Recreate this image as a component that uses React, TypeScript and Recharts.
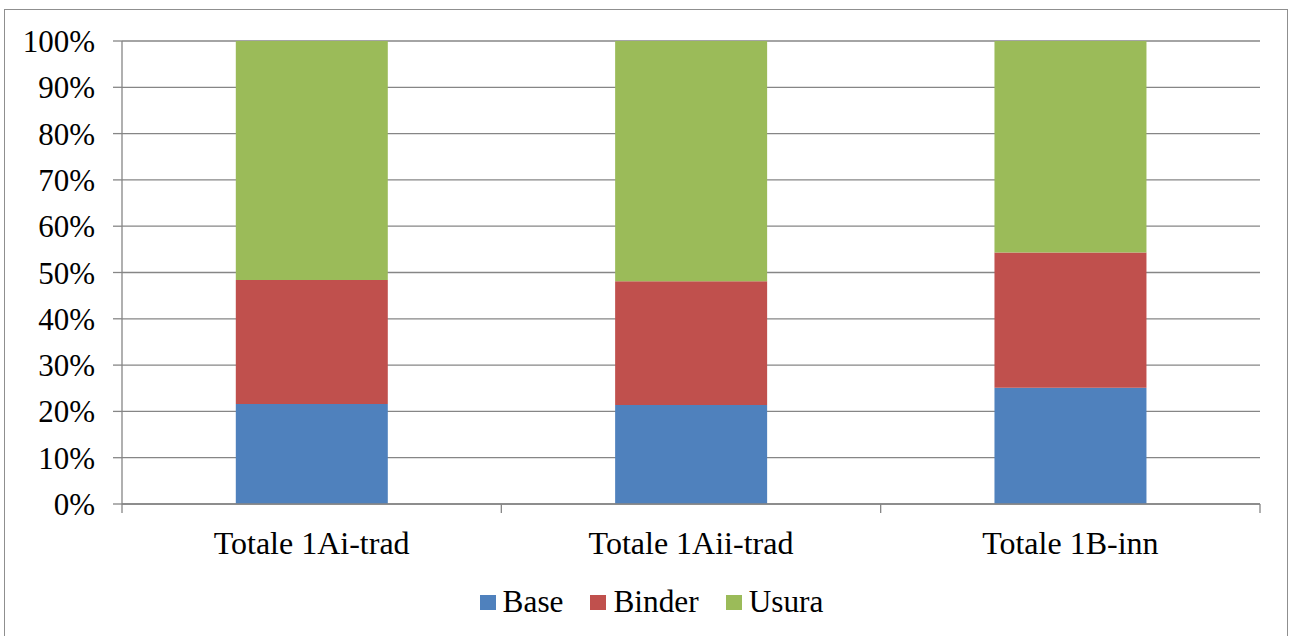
import React from 'react';
import { BarChart, Bar, XAxis, YAxis, CartesianGrid, Legend } from 'recharts';

const categories = ['Totale 1Ai-trad', 'Totale 1Aii-trad', 'Totale 1B-inn'];
const baseValues = [21.6, 21.4, 25.1];
const binderValues = [26.8, 26.7, 29.2];
const usuraValues = [51.6, 51.9, 45.7];
const yTicks = [0, 10, 20, 30, 40, 50, 60, 70, 80, 90, 100];

const data = categories.map((name, i) => ({
  name,
  Base: baseValues[i],
  Binder: binderValues[i],
  Usura: usuraValues[i],
}));

const FONT = '"Liberation Serif", "Times New Roman", serif';
const AXIS_GREY = '#868686';
const TICK_SIZE = 9;
const TICK_MARGIN = 18;

// category label plus the tick marks at the band edges (Excel style)
const CategoryTick = (props: any) => {
  const { x, y, payload, index, visibleTicksCount } = props;
  const off = payload && typeof payload.offset === 'number' ? payload.offset : 0;
  const y1 = y - TICK_MARGIN - TICK_SIZE;
  const y2 = y - TICK_MARGIN;
  return (
    <g>
      <line x1={x - off} x2={x - off} y1={y1} y2={y2} stroke={AXIS_GREY} strokeWidth={1.3} />
      {index === visibleTicksCount - 1 && (
        <line x1={x + off} x2={x + off} y1={y1} y2={y2} stroke={AXIS_GREY} strokeWidth={1.3} />
      )}
      <text x={x} y={y} dy="0.71em" textAnchor="middle" fill="#000" fontSize={32} fontFamily={FONT}>
        {payload.value}
      </text>
    </g>
  );
};

const PercentTick = (props: any) => {
  const { x, y, payload } = props;
  return (
    <text x={x} y={y} dy="0.355em" textAnchor="end" fill="#000" fontSize={31} fontFamily={FONT}>
      {`${payload.value}%`}
    </text>
  );
};

const LegendContent = (props: any) => {
  const { payload } = props;
  return (
    <div style={{ width: 1289, height: 60, display: 'flex', justifyContent: 'center', alignItems: 'flex-start', paddingTop: 9, paddingLeft: 14, boxSizing: 'border-box' }}>
      {(payload || []).map((entry: any, i: number) => (
        <div key={entry.value} style={{ display: 'flex', alignItems: 'center', marginLeft: i === 0 ? 0 : 27, fontFamily: FONT, fontSize: 31.3, lineHeight: '34px', color: '#000' }}>
          <span style={{ display: 'inline-block', width: 16, height: 15, background: entry.color, marginRight: 7 }} />
          <span>{entry.value}</span>
        </div>
      ))}
    </div>
  );
};

export default function App() {
  return (
    <div style={{ position: 'absolute', left: 0, top: 0, width: 1289, height: 636, background: '#fff', overflow: 'hidden' }}>
      <div style={{ position: 'absolute', left: 4, top: 9, width: 1284, height: 640, border: '1.5px solid #8f8f8f', boxSizing: 'border-box' }} />
      <BarChart
        width={1289}
        height={636}
        data={data}
        margin={{ top: 41, right: 29, left: 0, bottom: 0 }}
        barCategoryGap="30%"
      >
        <CartesianGrid horizontal vertical={false} stroke={AXIS_GREY} strokeWidth={1.3} />
        <XAxis
          dataKey="name"
          height={72}
          axisLine={{ stroke: AXIS_GREY, strokeWidth: 1.3 }}
          tickLine={false}
          tickSize={TICK_SIZE}
          tickMargin={TICK_MARGIN}
          tick={<CategoryTick />}
          interval={0}
        />
        <YAxis
          width={122}
          domain={[0, 100]}
          ticks={yTicks}
          axisLine={{ stroke: AXIS_GREY, strokeWidth: 1.3 }}
          tickLine={{ stroke: AXIS_GREY, strokeWidth: 1.3 }}
          tickSize={TICK_SIZE}
          tickMargin={TICK_MARGIN}
          tick={<PercentTick />}
          interval={0}
          allowDataOverflow
        />
        <Legend verticalAlign="bottom" height={60} wrapperStyle={{ left: 0, width: 1289 }} content={<LegendContent />} />
        <Bar dataKey="Base" stackId="a" fill="#4F81BD" isAnimationActive={false} />
        <Bar dataKey="Binder" stackId="a" fill="#C0504D" isAnimationActive={false} />
        <Bar dataKey="Usura" stackId="a" fill="#9BBB59" isAnimationActive={false} />
      </BarChart>
    </div>
  );
}
